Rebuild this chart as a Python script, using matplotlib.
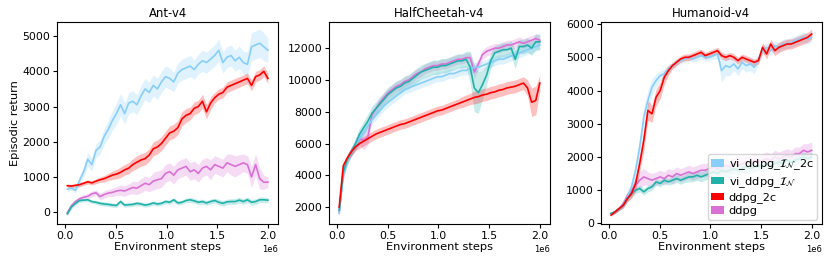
import matplotlib
matplotlib.use("Agg")
import matplotlib.pyplot as plt
from matplotlib.patches import Patch
import numpy as np

# environment steps (50 eval points)
steps = np.linspace(0.02e6, 2.0e6, 50)

labels = [r"vi_ddpg_$\mathcal{I}_\mathcal{N}$_2c", r"vi_ddpg_$\mathcal{I}_\mathcal{N}$", "ddpg_2c", "ddpg"]
colors = ["lightskyblue", "lightseagreen", "red", "orchid"]
envs = ["Ant-v4", "HalfCheetah-v4", "Humanoid-v4"]

# ---- Ant-v4
ant_vi2c = [650, 680, 620, 900, 1150, 1500, 1350, 1750, 1850, 2150, 2350, 2600, 2800, 3050, 2800, 3100, 3150, 3050, 3300, 3500,
            3400, 3600, 3500, 3700, 3850, 3800, 3700, 3950, 4050, 4100, 4150, 4050, 4200, 4300, 4250, 4350, 4450, 4600, 4250, 4400,
            4450, 4300, 4400, 4250, 4200, 4700, 4750, 4800, 4700, 4600]
ant_vi2c_std = [60, 60, 80, 120, 150, 200, 180, 200, 200, 220, 250, 280, 300, 320, 300, 300, 300, 280, 300, 300,
                300, 300, 300, 300, 300, 300, 280, 280, 300, 300, 300, 280, 280, 300, 300, 300, 300, 320, 300, 300,
                300, 300, 320, 320, 350, 400, 400, 400, 400, 350]
ant_vi = [-50, 150, 250, 330, 340, 350, 300, 280, 250, 230, 220, 200, 190, 300, 200, 210, 220, 250, 230, 200,
          220, 260, 230, 250, 300, 280, 350, 260, 280, 330, 350, 320, 280, 300, 260, 300, 330, 280, 250, 290,
          300, 300, 340, 300, 350, 280, 300, 350, 350, 340]
ant_vi_std = [40, 50, 50, 50, 50, 50, 50, 50, 60, 60, 60, 60, 60, 60, 60, 60, 60, 60, 60, 60,
              60, 60, 60, 60, 60, 60, 60, 60, 60, 60, 70, 70, 70, 70, 70, 70, 70, 80, 80, 80,
              80, 80, 80, 80, 80, 80, 80, 80, 80, 80]
ant_2c = [750, 740, 760, 780, 820, 860, 830, 880, 920, 950, 1000, 1050, 1080, 1130, 1200, 1250, 1350, 1420, 1480, 1520,
          1620, 1800, 1850, 1950, 2100, 2250, 2300, 2400, 2650, 2750, 2800, 2950, 3000, 3150, 2850, 3100, 3250, 3350, 3400, 3550,
          3600, 3650, 3700, 3750, 3800, 3600, 3850, 3900, 4000, 3800]
ant_2c_std = [50, 50, 50, 60, 60, 60, 60, 70, 80, 90, 100, 120, 130, 150, 150, 160, 170, 180, 180, 180,
              180, 200, 200, 200, 200, 200, 200, 200, 200, 200, 180, 180, 180, 200, 200, 180, 150, 150, 150, 150,
              150, 150, 150, 150, 150, 150, 150, 150, 150, 150]
ant_ddpg = [-20, 180, 300, 380, 420, 450, 520, 550, 440, 500, 540, 560, 600, 620, 600, 650, 700, 680, 750, 820,
            780, 880, 920, 950, 1100, 1150, 1050, 1200, 1250, 1300, 1150, 1200, 1100, 1250, 1300, 1200, 1350, 1300, 1250, 1400,
            1350, 1300, 1350, 1400, 1350, 1000, 1350, 950, 850, 850]
ant_ddpg_std = [80, 80, 60, 60, 80, 80, 80, 80, 100, 100, 100, 120, 120, 150, 150, 150, 180, 180, 200, 200,
                200, 250, 250, 250, 250, 250, 250, 250, 250, 250, 250, 250, 250, 250, 250, 280, 250, 250, 250, 250,
                300, 300, 280, 250, 250, 300, 300, 300, 200, 150]

# ---- HalfCheetah-v4
hc_vi2c = [1600, 4000, 4900, 5500, 5900, 6300, 6700, 7100, 7500, 7800, 8100, 8400, 8600, 8800, 9000, 9200, 9400, 9500, 9600, 9700,
           9800, 9900, 10000, 10100, 10200, 10200, 10300, 10400, 10400, 10500, 10600, 10600, 10700, 10800, 10800, 10900, 11000, 11100, 11200, 11300,
           11300, 11400, 11500, 11600, 11700, 11800, 11900, 12000, 12100, 12200]
hc_vi2c_std = [200, 300, 300, 300, 300, 300, 300, 300, 300, 300, 300, 300, 300, 300, 300, 300, 300, 300, 300, 300,
               300, 300, 300, 300, 300, 300, 300, 300, 300, 300, 300, 300, 300, 300, 300, 300, 300, 300, 300, 300,
               300, 300, 300, 300, 300, 300, 300, 300, 300, 300]
hc_vi = [1800, 4200, 5000, 5500, 6000, 6600, 7000, 7400, 7900, 8200, 8500, 8800, 9100, 9300, 9500, 9600, 9800, 9900, 10100, 10300,
         10500, 10600, 10700, 10800, 10800, 10900, 10900, 11000, 11100, 11200, 11200, 11300, 10800, 9500, 9200, 9700, 10300, 11200, 11700, 11800,
         11900, 11900, 12000, 11300, 12100, 12100, 12200, 12000, 12400, 12400]
hc_vi_std = [200, 300, 300, 300, 350, 400, 400, 450, 450, 450, 450, 450, 450, 450, 450, 450, 450, 450, 450, 450,
             450, 450, 450, 450, 450, 450, 450, 450, 450, 450, 450, 500, 1000, 1500, 1300, 900, 600, 500, 450, 450,
             450, 450, 450, 600, 450, 450, 450, 450, 500, 500]
hc_2c = [2000, 4600, 5100, 5500, 5800, 6000, 6150, 6300, 6450, 6600, 6700, 6800, 6900, 7000, 7100, 7200, 7250, 7350, 7450, 7550,
         7650, 7750, 7850, 7950, 8050, 8100, 8200, 8300, 8400, 8500, 8600, 8700, 8800, 8900, 8950, 9050, 9100, 9200, 9250, 9350,
         9400, 9500, 9550, 9600, 9700, 9800, 9500, 8600, 8700, 9800]
hc_2c_std = [150, 200, 200, 250, 250, 300, 300, 300, 300, 300, 300, 300, 300, 300, 300, 300, 300, 300, 300, 300,
             300, 300, 300, 300, 300, 300, 300, 300, 300, 300, 350, 350, 350, 400, 400, 400, 400, 400, 400, 400,
             400, 400, 400, 400, 400, 400, 500, 900, 900, 500]
hc_ddpg = [1700, 4100, 5000, 5500, 5900, 6300, 6200, 6400, 7800, 8200, 8600, 8900, 9200, 9400, 9600, 9700, 9900, 10000, 10200, 10400,
           10500, 10700, 10800, 10900, 10900, 11000, 11000, 11100, 11200, 11300, 11300, 11400, 11400, 10500, 11000, 11600, 11800, 11900, 12000, 12000,
           12100, 12200, 12200, 12300, 12400, 12300, 12400, 12500, 12600, 12500]
hc_ddpg_std = [200, 300, 300, 300, 300, 400, 600, 500, 300, 300, 300, 300, 300, 300, 300, 300, 300, 300, 300, 300,
               300, 300, 300, 300, 300, 300, 300, 300, 300, 300, 300, 300, 300, 400, 300, 300, 300, 300, 300, 300,
               300, 300, 300, 300, 300, 300, 300, 300, 300, 300]

# ---- Humanoid-v4
hum_vi2c = [300, 350, 450, 550, 800, 1100, 1600, 2300, 3200, 3700, 4100, 4300, 4450, 4500, 4650, 4750, 4850, 4900, 4950, 5000,
            4950, 5000, 5050, 5000, 5000, 5050, 5100, 4600, 4750, 4700, 4800, 4650, 4850, 4750, 4800, 4700, 4950, 5200, 5300, 5200,
            5350, 5300, 5400, 5400, 5450, 5500, 5550, 5600, 5550, 5600]
hum_vi2c_std = [40, 50, 60, 80, 120, 200, 250, 300, 300, 300, 250, 200, 150, 150, 120, 100, 100, 100, 100, 100,
                100, 100, 100, 100, 100, 100, 150, 350, 300, 250, 200, 200, 200, 200, 200, 200, 150, 150, 150, 150,
                150, 150, 150, 150, 150, 150, 150, 150, 150, 150]
hum_vi = [300, 350, 450, 550, 750, 900, 1000, 1050, 950, 1050, 1100, 1250, 1200, 1300, 1250, 1300, 1350, 1300, 1350, 1400,
          1400, 1450, 1400, 1450, 1500, 1550, 1500, 1600, 1550, 1600, 1650, 1600, 1650, 1700, 1650, 1700, 1750, 1700, 1800, 1750,
          1800, 1850, 1800, 1900, 1850, 1900, 1950, 2000, 1950, 2000]
hum_vi_std = [40, 50, 60, 80, 100, 100, 100, 100, 100, 100, 100, 100, 100, 100, 100, 120, 120, 120, 120, 150,
              150, 150, 150, 150, 150, 150, 150, 150, 150, 150, 150, 150, 150, 150, 150, 150, 150, 150, 150, 150,
              150, 150, 150, 150, 150, 150, 150, 150, 150, 150]
hum_2c = [250, 350, 450, 550, 750, 900, 1200, 1800, 2500, 3400, 3300, 3800, 4000, 4400, 4600, 4750, 4850, 4950, 5000, 5000,
          5050, 5100, 5150, 5050, 5100, 5150, 5200, 5050, 5000, 5050, 5000, 4900, 5000, 4950, 4900, 4850, 4900, 5300, 5100, 5400,
          5200, 5300, 5350, 5400, 5400, 5450, 5500, 5550, 5600, 5700]
hum_2c_std = [40, 50, 60, 80, 100, 150, 200, 250, 300, 300, 250, 250, 250, 200, 150, 100, 100, 100, 100, 100,
              100, 100, 100, 100, 100, 100, 100, 100, 100, 100, 100, 100, 100, 100, 100, 100, 100, 150, 150, 150,
              150, 150, 150, 150, 150, 150, 150, 150, 150, 150]
hum_ddpg = [300, 350, 450, 600, 850, 1000, 1150, 1300, 1400, 1350, 1300, 1350, 1400, 1350, 1450, 1400, 1500, 1450, 1500, 1550,
            1500, 1550, 1600, 1600, 1650, 1700, 1650, 1700, 1750, 1700, 1800, 1750, 1800, 1850, 1800, 1900, 1850, 1900, 1950, 1900,
            2000, 1950, 2000, 2050, 2000, 2100, 2100, 2200, 2150, 2200]
hum_ddpg_std = [40, 50, 60, 80, 100, 150, 200, 250, 250, 200, 200, 200, 200, 200, 200, 200, 200, 200, 200, 200,
                200, 200, 200, 200, 200, 200, 200, 200, 200, 200, 200, 200, 200, 200, 200, 200, 200, 200, 200, 200,
                200, 200, 200, 200, 200, 200, 200, 200, 250, 250]

results = [
    [(ant_vi2c, ant_vi2c_std), (ant_vi, ant_vi_std), (ant_2c, ant_2c_std), (ant_ddpg, ant_ddpg_std)],
    [(hc_vi2c, hc_vi2c_std), (hc_vi, hc_vi_std), (hc_2c, hc_2c_std), (hc_ddpg, hc_ddpg_std)],
    [(hum_vi2c, hum_vi2c_std), (hum_vi, hum_vi_std), (hum_2c, hum_2c_std), (hum_ddpg, hum_ddpg_std)],
]
ylims = [(-340, 5400), (930, 13640), (-20, 6060)]

fig, axs = plt.subplots(1, 3, figsize=(8.3, 2.63), dpi=100)
fig.subplots_adjust(left=0.069, right=0.99, bottom=0.148, top=0.916, wspace=0.232)

for ax, env, res, yl in zip(axs, envs, results, ylims):
    for i in [3, 0, 1, 2]:
        m = np.array(res[i][0], dtype=float)
        s = np.array(res[i][1], dtype=float)
        ax.fill_between(steps, m - s, m + s, color=colors[i], alpha=0.25, linewidth=0)
        ax.plot(steps, m, color=colors[i], linewidth=1.2)
    ax.set_title(env, fontsize=8.4, pad=4)
    ax.set_xlabel("Environment steps", fontsize=8.2, labelpad=1)
    ax.set_xticks([0, 0.5e6, 1.0e6, 1.5e6, 2.0e6])
    ax.set_ylim(*yl)
    ax.tick_params(labelsize=7.8, length=3, pad=2)
    ax.xaxis.get_offset_text().set_fontsize(6)

axs[0].set_ylabel("Episodic return", fontsize=8.2, labelpad=2)

handles = [Patch(facecolor=c, label=l) for c, l in zip(colors, labels)]
axs[2].legend(handles=handles, loc="lower right", fontsize=8.2, handlelength=1.1, handleheight=0.6,
              handletextpad=0.4, borderpad=0.3, labelspacing=0.25, borderaxespad=0.4)

fig.savefig("out.png", dpi=100)
